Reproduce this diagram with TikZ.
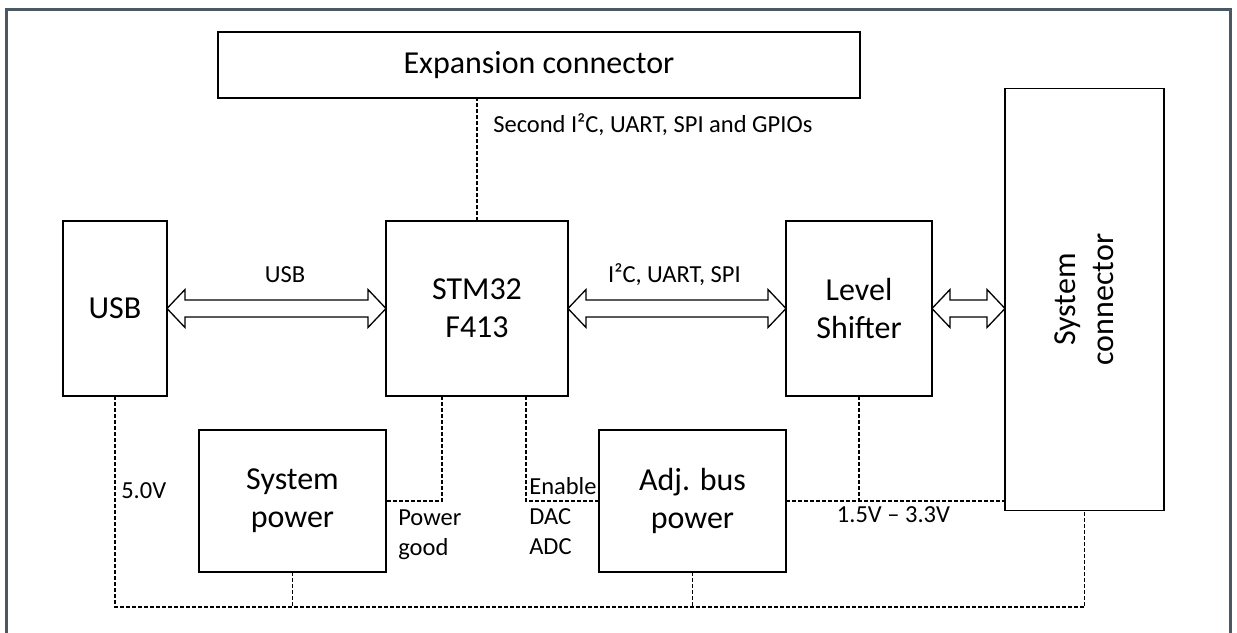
\documentclass[tikz,border=0pt]{standalone}
\usepackage{fontspec}
\setmainfont{Carlito}
\usetikzlibrary{positioning,calc}
\definecolor{framegray}{RGB}{75,87,99}

\newcommand{\busarrow}[2]{%
  \draw[hollow] (#1) -- ++(18,-19) -- ++(0,10.5) -- ($(#2)+(-18,-8.5)$)
    -- ++(0,-10.5) -- (#2) -- ++(-18,19) -- ++(0,-10.5)
    -- ($(#1)+(18,8.5)$) -- ++(0,10.5) -- cycle;}

\begin{document}
\begin{tikzpicture}[x=1pt,y=-1pt,semithick]
	  \tikzstyle{block}=[draw=black,line width=1.3pt,inner sep=0pt,outer sep=0pt,align=center,
	                     font=\fontsize{32}{38}\selectfont]
	  \tikzstyle{lbl}=[inner sep=0pt,font=\fontsize{24.5}{30}\selectfont]
	  \tikzstyle{sig}=[line width=1.2pt,dash pattern=on 4pt off 2pt]
	  \tikzstyle{hollow}=[draw=black,fill=white,line width=1.3pt,line join=miter]

	  \useasboundingbox (0,0) rectangle (1237,632);
	  \draw[framegray,line width=3pt] (6.5,640) |- (1230.5,9.5) -- (1230.5,640);

	  \node[block,minimum width=104pt,minimum height=175pt] (USB) at (115,308.5) {USB};
	  \node[block,minimum width=182pt,minimum height=175pt] (MCU) [right=219pt of USB] {STM32\\F413};
	  \node[block,minimum width=146pt,minimum height=175pt] (LS)  [right=218pt of MCU] {Level\\Shifter};
	  \node[block,minimum width=159pt,minimum height=422pt] (SC)  [right=73pt of LS,yshift=9pt] {};
	  \node[block,draw=none,rotate=90] (SCtext) at (SC.center) {System\\connector};
	  \node[block,minimum width=642pt,minimum height=66pt]  (EXP) at (539,65) {Expansion connector};
	  \node[block,minimum width=187pt,minimum height=142pt] (SP)  [below left=34pt and 0pt of MCU] {System\\power};
	  \node[block,minimum width=187pt,minimum height=142pt] (AP)  [below left=34pt and 0pt of LS] {Adj. bus\\power};

	  \node[lbl,anchor=base west] (lEXP) at (493,132) {Second I²C, UART, SPI and GPIOs};
	  \node[lbl,anchor=base] (lUSB) at (285,282) {USB};
	  \node[lbl,anchor=base] (lBUS) at (674.5,282) {I²C, UART, SPI};
	  \node[lbl,anchor=base west] (l5V) at (121,498) {5.0V};
	  \node[lbl,align=left,anchor=north west] (lPG) at (398,509) {Power\\good};
	  \node[lbl,align=left,anchor=north west] (lEN) at (529,477) {Enable\\DAC\\ADC};
	  \node[lbl,anchor=base] (lVIO) at (893.5,522) {1.5V – 3.3V};

	  \busarrow{USB.east}{MCU.west}
	  \busarrow{MCU.east}{LS.west}
	  \busarrow{LS.east}{LS.east -| SC.west}

	  \coordinate (busL) at (USB.south |- 0,607);
	  \draw[sig] (MCU.north) -- (MCU.north |- EXP.south);
	  \draw[sig] (USB.south) -- (busL) -| (SC.south);
	  \draw[sig] (SP.south) -- (SP.south |- busL);
	  \draw[sig] (AP.south) -- (AP.south |- busL);
	  \draw[sig] ([xshift=56pt]MCU.south west) |- (SP.east);
	  \draw[sig] ([xshift=140pt]MCU.south west) |- (AP.west);
	  \draw[sig] (LS.south) -- (LS.south |- AP.east);
	  \draw[sig] (AP.east) -- (AP.east -| SC.west);
	\end{tikzpicture}
\end{document}
